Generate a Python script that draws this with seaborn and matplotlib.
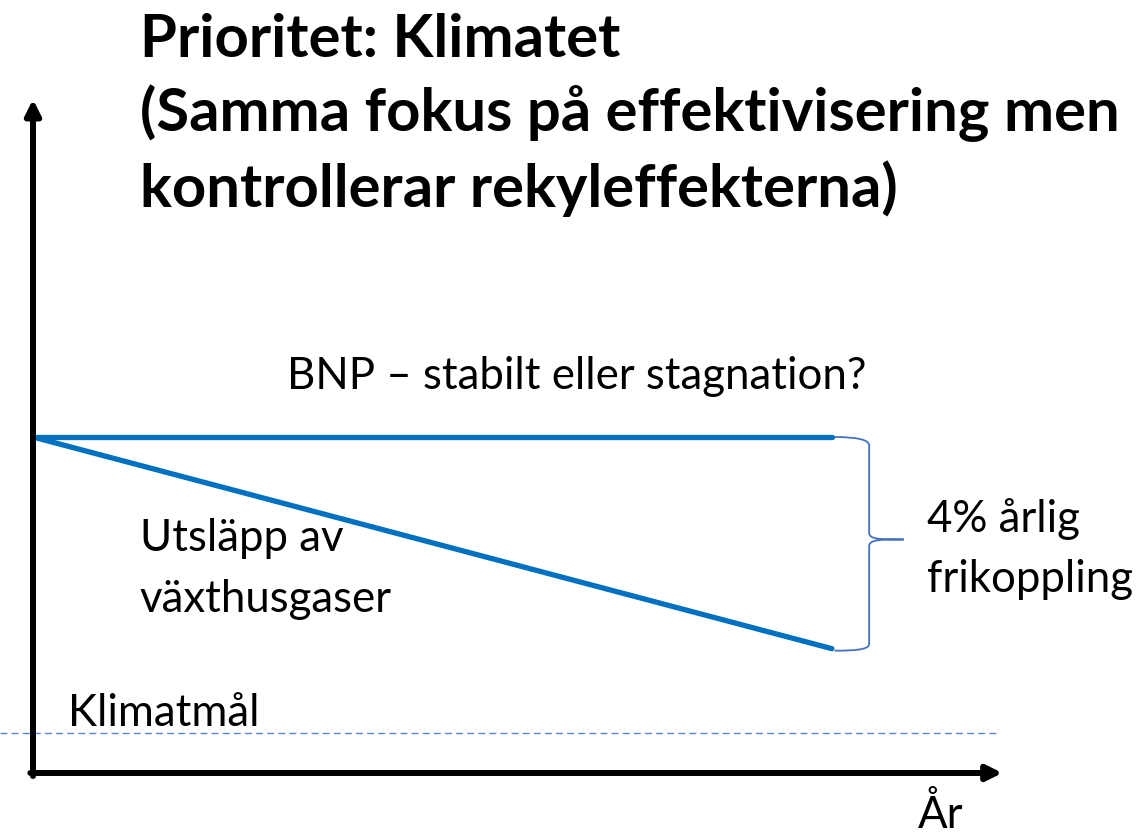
import numpy as np
import pandas as pd
import matplotlib
matplotlib.use("Agg")
import matplotlib.pyplot as plt
from matplotlib.path import Path
from matplotlib.patches import PathPatch
import seaborn as sns

# Data (schematic values)
years = [0, 30]
bnp = [100, 100]
utslapp = [100, 37]
klimatmal = 12

title = "Prioritet: Klimatet\n(Samma fokus på effektivisering men\nkontrollerar rekyleffekterna)"
bnp_label = "BNP – stabilt eller stagnation?"
utslapp_label = "Utsläpp av\nväxthusgaser"
brace_label = "4% årlig\nfrikoppling"
mal_label = "Klimatmål"
x_label = "År"

sns.set_style("white")
plt.rcParams['font.family'] = ['Lato', 'DejaVu Sans']
plt.rcParams['text.color'] = 'black'

df = pd.DataFrame({
    "år": years * 2,
    "värde": bnp + utslapp,
    "serie": ["BNP"] * 2 + ["Utsläpp"] * 2,
})

fig = plt.figure(figsize=(11.4, 8.38), dpi=100)
ax = fig.add_axes([0, 0, 1, 1])

blue = "#0070C0"
sns.lineplot(data=df, x="år", y="värde", units="serie", estimator=None,
             color=blue, linewidth=3.8, ax=ax, legend=False)

ax.set_xlim(-1.239, 41.57)
ax.set_ylim(-19.35, 230.06)
ax.axis("off")

# axes with arrows
ax.annotate("", xy=(0, 200.5), xytext=(0, -0.9),
            arrowprops=dict(arrowstyle="-|>,head_length=0.9,head_width=0.45",
                            lw=4.3, color="black", shrinkA=0, shrinkB=0))
ax.annotate("", xy=(36.4, 0), xytext=(-0.1, 0),
            arrowprops=dict(arrowstyle="-|>,head_length=0.9,head_width=0.45",
                            lw=4.3, color="black", shrinkA=0, shrinkB=0))

# climate target line
ax.axhline(klimatmal, xmin=0, xmax=1000 / 1140, color="#5B86CF",
           lw=1.0, ls=(0, (5, 3)))

# brace between the line ends
x0 = years[-1] + 0.1
xb = x0 + 1.3
xt = x0 + 2.6
top, bot = bnp[-1], utslapp[-1]
mid = (top + bot) / 2 + 1
verts = [(x0, top), (xb, top), (xb, top - 2.5), (xb, top - 4),
         (xb, mid + 2),
         (xb, mid), (xb + 0.4, mid), (xt, mid),
         (xb + 0.4, mid), (xb, mid), (xb, mid - 2),
         (xb, bot + 1.5),
         (xb, bot), (xb - 0.3, bot - 0.6), (x0, bot - 0.6)]
codes = [Path.MOVETO, Path.CURVE3, Path.CURVE3, Path.LINETO,
         Path.LINETO,
         Path.CURVE4, Path.CURVE4, Path.CURVE4,
         Path.CURVE4, Path.CURVE4, Path.CURVE4,
         Path.LINETO,
         Path.CURVE4, Path.CURVE4, Path.CURVE4]
ax.add_patch(PathPatch(Path(verts, codes), fill=False, ec="#4472C4", lw=1.3))

# texts
ax.text(140 / 1140, 1 - 115 / 838, title, transform=ax.transAxes, ha="left",
        va="center", fontsize=43, fontweight="bold", linespacing=1.38,
        color="black")
ax.text(287 / 1140, 1 - 376 / 838, bnp_label, transform=ax.transAxes,
        ha="left", va="center", fontsize=31.5, color="black")
ax.text(140 / 1140, 1 - 569 / 838, utslapp_label, transform=ax.transAxes,
        ha="left", va="center", fontsize=31.5, linespacing=1.59, color="black")
ax.text(927 / 1140, 1 - 549 / 838, brace_label, transform=ax.transAxes,
        ha="left", va="center", fontsize=31.5, linespacing=1.59, color="black")
ax.text(68 / 1140, 1 - 713 / 838, mal_label, transform=ax.transAxes,
        ha="left", va="center", fontsize=31.5, color="black")
ax.text(918 / 1140, 1 - 815 / 838, x_label, transform=ax.transAxes,
        ha="left", va="center", fontsize=31.5, color="black")

fig.savefig("out.png", dpi=100)
